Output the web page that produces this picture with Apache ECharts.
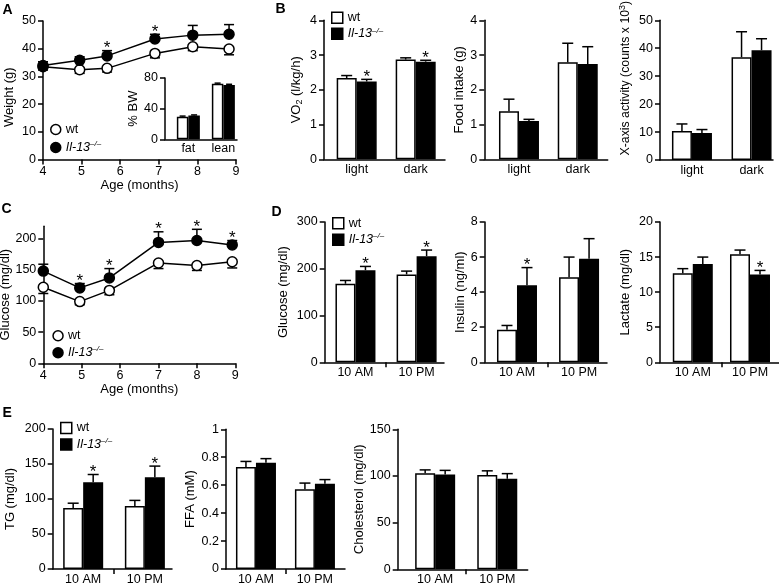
<!DOCTYPE html>
<html>
<head>
<meta charset="utf-8">
<script src="https://cdn.jsdelivr.net/npm/echarts@6/dist/echarts.min.js"></script>
<style>html,body{margin:0;padding:0;background:#fff}#c{width:779px;height:583px}</style>
</head>
<body>
<div id="c"></div>
<script>
// ---------------- data ----------------
const ageWeight = [4, 4.95, 5.66, 6.9, 7.88, 8.82];
const weightWt = [33.5, 32.4, 32.9, 38.3, 40.7, 39.9];
const weightWtErr = [1.2, 1.3, 1.3, 1.6, 1.4, 2.1];
const weightKo = [33.9, 35.8, 37.4, 43.5, 44.9, 45.2];
const weightKoErr = [1.4, 1.3, 1.9, 1.7, 3.5, 3.5];
const weightStar = [0, 0, 1, 1, 0, 0];

const compCats = ['fat', 'lean'];
const compWt = [29.5, 72.5];
const compWtErr = [0.8, 0.8];
const compKo = [31, 71];
const compKoErr = [0.8, 0.8];

const phaseCats = ['light', 'dark'];
const vo2Wt = [2.34, 2.87];
const vo2WtErr = [0.07, 0.05];
const vo2Ko = [2.24, 2.81];
const vo2KoErr = [0.06, 0.04];
const vo2Star = [1, 1];
const foodWt = [1.38, 2.79];
const foodWtErr = [0.35, 0.55];
const foodKo = [1.1, 2.74];
const foodKoErr = [0.05, 0.5];
const actWt = [10.4, 36.8];
const actWtErr = [2.5, 9.1];
const actKo = [9.7, 39.3];
const actKoErr = [1.2, 4.1];

const ageGlucose = [4, 4.95, 5.72, 7, 8, 8.92];
const glucWt = [122, 99, 117, 161, 157, 163];
const glucWtErr = [10, 5, 7, 9, 8, 10];
const glucKo = [148, 121, 137, 194, 197, 190];
const glucKoErr = [11, 7, 15, 17, 18, 7];
const glucStar = [0, 1, 1, 1, 1, 1];

const timeCats = ['10 AM', '10 PM'];
const fastGlucWt = [168, 188];
const fastGlucWtErr = [7, 7];
const fastGlucKo = [197, 227];
const fastGlucKoErr = [8, 13];
const fastGlucStar = [1, 1];
const insulinWt = [1.85, 4.85];
const insulinWtErr = [0.25, 1.15];
const insulinKo = [4.4, 5.9];
const insulinKoErr = [1.0, 1.15];
const insulinStar = [1, 0];
const lactateWt = [12.7, 15.4];
const lactateWtErr = [0.65, 0.6];
const lactateKo = [14.0, 12.5];
const lactateKoErr = [1.0, 0.6];
const lactateStar = [0, 1];
const tgWt = [87, 90];
const tgWtErr = [7, 8];
const tgKo = [124, 131];
const tgKoErr = [11, 16];
const tgStar = [1, 1];
const ffaWt = [0.73, 0.57];
const ffaWtErr = [0.04, 0.045];
const ffaKo = [0.76, 0.61];
const ffaKoErr = [0.03, 0.03];
const cholWt = [103, 101];
const cholWtErr = [3.5, 4.5];
const cholKo = [101.5, 97];
const cholKoErr = [4.5, 5.5];

const legendNames = ['wt', 'ko'];

// ---------------- styles ----------------
const FONT = '"Liberation Sans", Arial, Helvetica, sans-serif';
const AXL = { show: true, onZero: false, lineStyle: { color: '#000', width: 1.5 } };
const TICK = { show: true, length: 5, inside: false, lineStyle: { color: '#000', width: 1.5 } };
const LBL = { color: '#000', fontFamily: FONT, fontSize: 12.5 };
function nameStyle(size) {
  return { color: '#000', fontFamily: FONT, fontSize: size,
    rich: {
      n: { color: '#000', fontFamily: FONT, fontSize: size, lineHeight: 16 },
      sub: { color: '#000', fontFamily: FONT, fontSize: 9, lineHeight: 16, verticalAlign: 'bottom' },
      sup: { color: '#000', fontFamily: FONT, fontSize: 9, lineHeight: 16, verticalAlign: 'top' }
    } };
}

const grids = [], xAxes = [], yAxes = [], series = [];

function errSeries(gi, xs, vals, errs, dir, stars, offset, capHalf, z) {
  return {
    type: 'custom', xAxisIndex: gi, yAxisIndex: gi, silent: true, z: z,
    encode: { x: 0, y: 1 },
    data: xs.map((x, i) => [x, vals[i], errs[i], stars ? stars[i] : 0]),
    renderItem: function (params, api) {
      const x = api.value(0), v = api.value(1), e = api.value(2), s = api.value(3);
      const p0 = api.coord([x, v]);
      const p1 = api.coord([x, v + dir * e]);
      const cx = p0[0] + offset;
      const st = { stroke: '#000', lineWidth: 1.5 };
      const ch = [
        { type: 'line', shape: { x1: cx, y1: p0[1], x2: cx, y2: p1[1] }, style: st },
        { type: 'line', shape: { x1: cx - capHalf, y1: p1[1], x2: cx + capHalf, y2: p1[1] }, style: st }
      ];
      if (s) {
        ch.push({ type: 'text', x: cx, y: p1[1] - 2,
          style: { text: '*', fill: '#000', font: '17px ' + FONT, align: 'center', verticalAlign: 'middle' } });
      }
      return { type: 'group', children: ch };
    }
  };
}

function barSeries(name, gi, xs, vals, bw) {
  return {
    type: 'bar', name: name, xAxisIndex: gi, yAxisIndex: gi, barWidth: bw, barGap: '0%',
    data: xs.map((x, i) => [x, vals[i]]),
    itemStyle: { color: name === 'wt' ? '#fff' : '#000', borderColor: '#000', borderWidth: 1.5 },
    z: 2
  };
}

function addBarPanel(p) {
  const gi = grids.length;
  grids.push({ left: p.box[0], top: p.box[1], width: p.box[2], height: p.box[3], outerBoundsMode: 'none', containLabel: false });
  const xs = p.cats.map((c, i) => i);
  xAxes.push({
    type: 'value', gridIndex: gi, min: p.xr[0], max: p.xr[1],
    axisLine: AXL,
    axisTick: Object.assign({}, TICK, { show: p.midTick !== false, customValues: [0.5] }),
    axisLabel: Object.assign({}, LBL, { margin: p.xMargin || 4, customValues: xs, formatter: v => p.cats[Math.round(v)] }),
    splitLine: { show: false }
  });
  yAxes.push({
    type: 'value', gridIndex: gi, min: p.y[0], max: p.y[1], interval: p.y[2],
    axisLine: AXL, axisTick: TICK,
    axisLabel: Object.assign({}, LBL, { margin: 7 }),
    splitLine: { show: false },
    name: p.name, nameLocation: 'middle', nameGap: p.nameGap,
    nameTextStyle: Object.assign(nameStyle(p.nameSize || 13), { padding: p.namePad || 0 })
  });
  const bw = p.bw || 20;
  series.push(barSeries('wt', gi, xs, p.wt, bw), barSeries('ko', gi, xs, p.ko, bw));
  const cap = p.cap || 5.5;
  series.push(errSeries(gi, xs, p.wt, p.wtErr, 1, null, -bw / 2, cap, 3));
  series.push(errSeries(gi, xs, p.ko, p.koErr, 1, p.stars, bw / 2, cap, 3));
}

function addLinePanel(p) {
  const gi = grids.length;
  grids.push({ left: p.box[0], top: p.box[1], width: p.box[2], height: p.box[3], outerBoundsMode: 'none', containLabel: false });
  xAxes.push({
    type: 'value', gridIndex: gi, min: 4, max: 9, interval: 1,
    axisLine: AXL, axisTick: TICK, axisLabel: Object.assign({}, LBL, { margin: 6 }),
    splitLine: { show: false },
    name: 'Age (months)', nameLocation: 'middle', nameGap: p.xNameGap, nameTextStyle: nameStyle(13)
  });
  const ya = {
    type: 'value', gridIndex: gi, min: p.y[0], max: p.y[1], interval: p.y[2],
    axisLine: AXL, axisTick: Object.assign({}, TICK), axisLabel: Object.assign({}, LBL, { margin: 7 }),
    splitLine: { show: false },
    name: p.name, nameLocation: 'middle', nameGap: p.nameGap,
    nameTextStyle: Object.assign(nameStyle(13), { padding: p.namePad || 0 })
  };
  if (p.yLabels) { ya.axisLabel.customValues = p.yLabels; ya.axisTick.customValues = p.yTicks || p.yLabels; }
  yAxes.push(ya);
  const mk = (name, vals) => ({
    type: 'line', name: name, xAxisIndex: gi, yAxisIndex: gi,
    data: p.x.map((x, i) => [x, vals[i]]),
    symbol: 'circle', symbolSize: 10, showSymbol: true,
    lineStyle: { color: '#000', width: 1.5 },
    itemStyle: { color: name === 'wt' ? '#fff' : '#000', borderColor: '#000', borderWidth: 1.5 },
    z: 3
  });
  series.push(mk('wt', p.wt), mk('ko', p.ko));
  series.push(errSeries(gi, p.x, p.wt, p.wtErr, -1, null, 0, 5, 1));
  series.push(errSeries(gi, p.x, p.ko, p.koErr, 1, p.stars, 0, 5, 1));
}

// ---- Panel A (line) ----
addLinePanel({ box: [43, 21, 193, 138.5], x: ageWeight, wt: weightWt, wtErr: weightWtErr, ko: weightKo, koErr: weightKoErr,
  stars: weightStar, y: [0, 50, 10], name: 'Weight (g)', nameGap: 27, namePad: [0, 14, 0, 0], xNameGap: 17 });

// ---- Panel A inset ----
addBarPanel({ box: [165, 78, 72, 61.3], cats: compCats, wt: compWt, wtErr: compWtErr, ko: compKo, koErr: compKoErr,
  xr: [-0.667, 1.39], y: [0, 80, 40], name: '% BW', nameGap: 10, bw: 11.5, cap: 3, midTick: false, xMargin: 3 });

// ---- Panel B ----
addBarPanel({ box: [324, 20.3, 121, 139], cats: phaseCats, wt: vo2Wt, wtErr: vo2WtErr, ko: vo2Ko, koErr: vo2KoErr, stars: vo2Star,
  xr: [-0.554, 1.497], y: [0, 4, 1], name: '{n|VO}{sub|2}{n| (l/kg/h)}', nameGap: 20, midTick: false });
addBarPanel({ box: [484.3, 20.3, 123.4, 139], cats: phaseCats, wt: foodWt, wtErr: foodWtErr, ko: foodKo, koErr: foodKoErr,
  xr: [-0.59, 1.51], y: [0, 4, 1], name: 'Food intake (g)', nameGap: 18, midTick: false });
addBarPanel({ box: [660, 20.3, 113, 139.7], cats: phaseCats, wt: actWt, wtErr: actWtErr, ko: actKo, koErr: actKoErr,
  xr: [-0.536, 1.36], y: [0, 50, 10], name: '{n|X-axis activity (counts x 10}{sup|3}{n|)}', nameSize: 12.3,
  nameGap: 26, namePad: [0, 0, 0, 24], midTick: false });

// ---- Panel C (line) ----
addLinePanel({ box: [43.3, 226.2, 192, 137.1], x: ageGlucose, wt: glucWt, wtErr: glucWtErr, ko: glucKo, koErr: glucKoErr,
  stars: glucStar, y: [0, 220, 50], yLabels: [0, 50, 100, 150, 200], name: 'Glucose (mg/dl)', nameGap: 31, xNameGap: 12 });

// ---- Panel D ----
addBarPanel({ box: [324.7, 222, 119.3, 140.3], cats: timeCats, wt: fastGlucWt, wtErr: fastGlucWtErr, ko: fastGlucKo, koErr: fastGlucKoErr, stars: fastGlucStar,
  xr: [-0.503, 1.448], y: [0, 300, 100], name: 'Glucose (mg/dl)', nameGap: 35 });
addBarPanel({ box: [484.7, 222, 122.3, 140.3], cats: timeCats, wt: insulinWt, wtErr: insulinWtErr, ko: insulinKo, koErr: insulinKoErr, stars: insulinStar,
  xr: [-0.52, 1.45], y: [0, 8, 2], name: 'Insulin (ng/ml)', nameGap: 18 });
addBarPanel({ box: [660, 222, 119, 140.3], cats: timeCats, wt: lactateWt, wtErr: lactateWtErr, ko: lactateKo, koErr: lactateKoErr, stars: lactateStar,
  xr: [-0.573, 1.507], y: [0, 20, 5], name: 'Lactate (mg/dl)', nameGap: 28 });

// ---- Panel E ----
addBarPanel({ box: [52.7, 429, 119.3, 140], cats: timeCats, wt: tgWt, wtErr: tgWtErr, ko: tgKo, koErr: tgKoErr, stars: tgStar,
  xr: [-0.494, 1.44], y: [0, 200, 50], name: 'TG (mg/dl)', nameGap: 36 });
addBarPanel({ box: [226, 429.3, 119, 139.7], cats: timeCats, wt: ffaWt, wtErr: ffaWtErr, ko: ffaKo, koErr: ffaKoErr,
  xr: [-0.508, 1.51], y: [0, 1, 0.2], name: 'FFA (mM)', nameGap: 29 });
addBarPanel({ box: [397.7, 429.3, 130, 140], cats: timeCats, wt: cholWt, wtErr: cholWtErr, ko: cholKo, koErr: cholKoErr,
  xr: [-0.603, 1.49], y: [0, 150, 50], name: 'Cholesterol (mg/dl)', nameGap: 25 });

// ---------------- legends ----------------
const legendText = {
  color: '#000', fontFamily: FONT, fontSize: 12.5, lineHeight: 15,
  rich: {
    i: { color: '#000', fontFamily: FONT, fontSize: 12.5, fontStyle: 'italic', lineHeight: 15 },
    s: { color: '#000', fontFamily: FONT, fontSize: 8, fontStyle: 'italic', lineHeight: 15, verticalAlign: 'top' }
  }
};
const legendFmt = n => n === 'ko' ? '{i|Il-13}{s|–/–}' : n;
function legend(left, top, icon, size, gap) {
  return { orient: 'vertical', left: left, top: top, padding: 0, icon: icon, itemWidth: size, itemHeight: size,
    itemGap: gap, data: legendNames, formatter: legendFmt, textStyle: legendText, selectedMode: false,
    itemStyle: { borderWidth: 1.5, borderColor: '#000' } };
}

const letter = (t, x, y) => ({ type: 'text', left: x, top: y, style: { text: t, fill: '#000', font: 'bold 14px ' + FONT } });

const option = {
  animation: false,
  backgroundColor: '#fff',
  textStyle: { fontFamily: FONT },
  grid: grids, xAxis: xAxes, yAxis: yAxes, series: series,
  legend: [
    legend(50, 122, 'circle', 10, 3),
    legend(331, 10.3, 'rect', 11, 1),
    legend(52.3, 328.2, 'circle', 10, 2),
    legend(332, 215.7, 'rect', 11, 1.5),
    legend(60, 420.5, 'rect', 11, 1.5)
  ],
  graphic: [
    letter('A', 2.5, 3), letter('B', 275.5, 2.5), letter('C', 1.5, 202.5), letter('D', 271.5, 205.5), letter('E', 2.5, 406.5)
  ]
};
const chart = echarts.init(document.getElementById('c'), null, { renderer: 'canvas' });
chart.setOption(option);
</script>
</body>
</html>
